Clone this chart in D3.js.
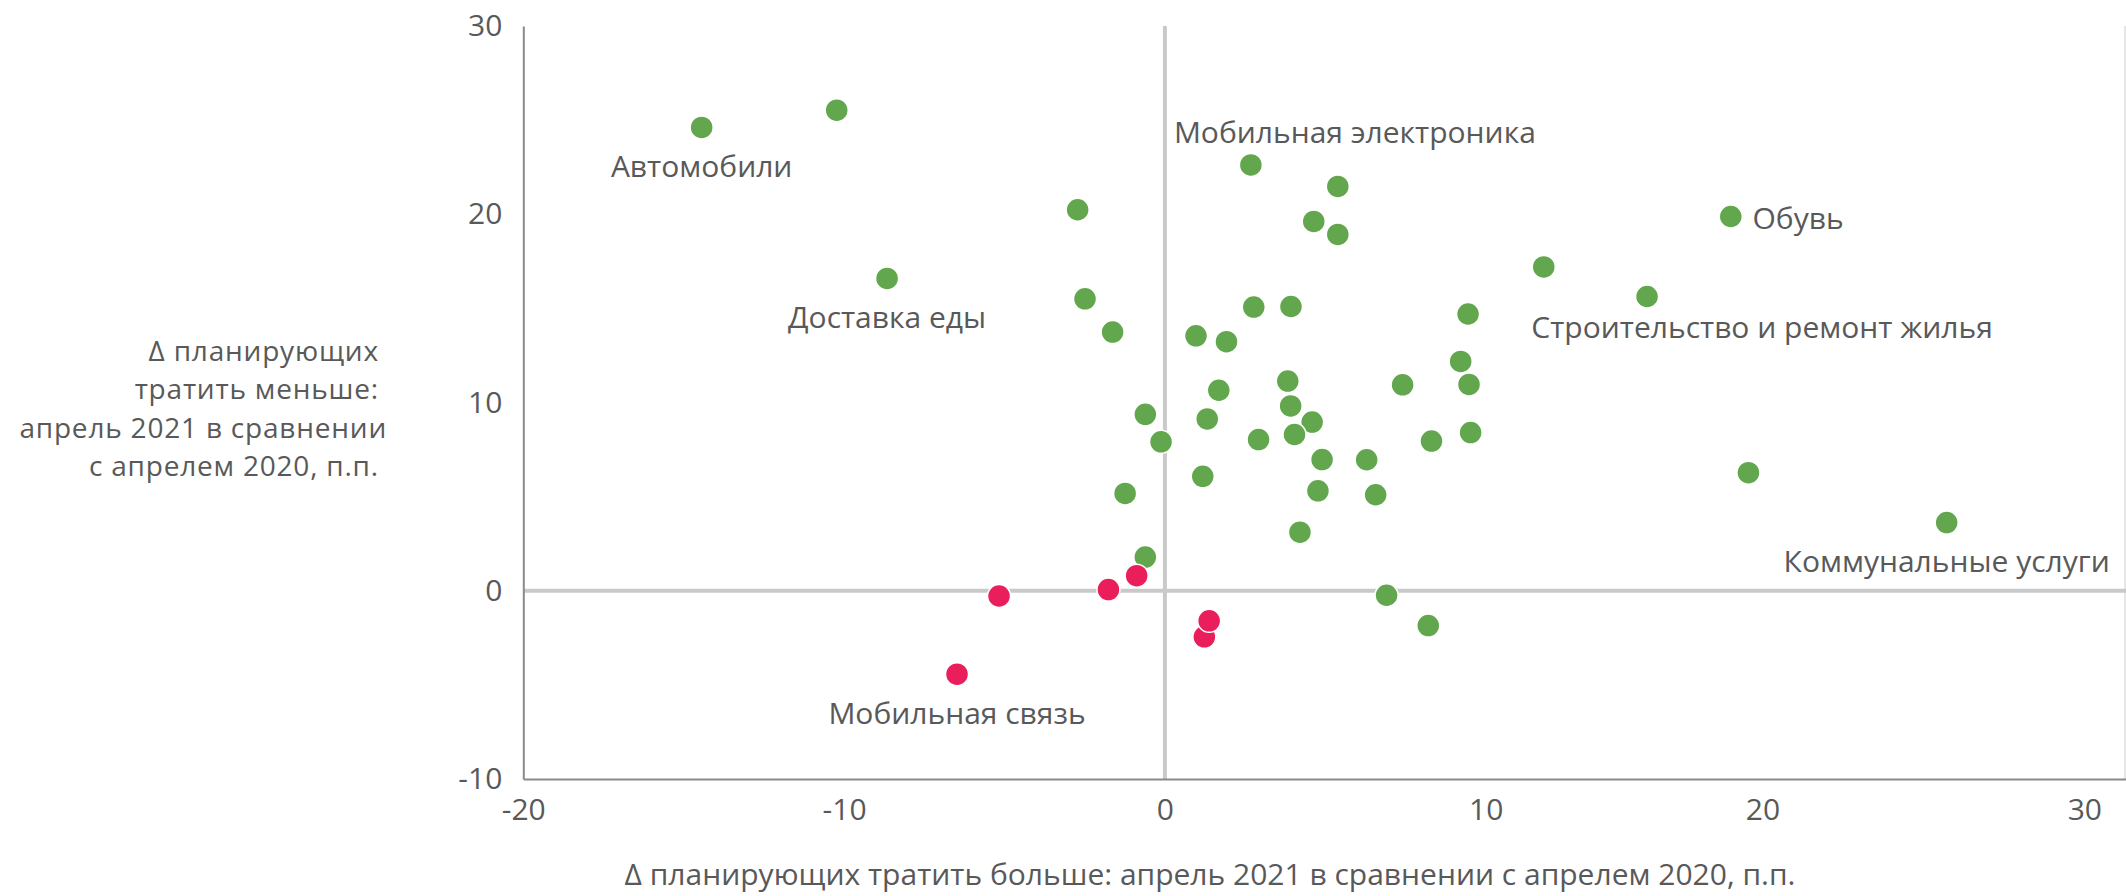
<!DOCTYPE html>
<html>
<head>
<meta charset="utf-8">
<script src="https://cdn.jsdelivr.net/npm/d3@7"></script>
<style>
  html, body { margin: 0; padding: 0; background: #ffffff; }
  svg text { font-family: "Open Sans", "Noto Sans", sans-serif; fill: #595959; }
</style>
</head>
<body>
<svg id="chart" width="2126" height="896"></svg>
<script>
// Categories whose share of "spend more" grew (green) — x: Δ spend more, y: Δ spend less, p.p.
const greenX = [-14.44, -10.23, -8.66, 2.68, 5.39, 4.64, 5.39, -2.72, -2.49, -1.63,
                 2.77, 3.93, 0.97, 1.92, 1.68, 3.83, 3.92, 4.59, 4.04, -0.61,
                -0.12, 1.32, 2.92, 4.90, 1.18, 4.77, -1.24, 4.21, -0.61, 11.81,
                15.03, 17.64, 9.45, 9.22, 9.48, 7.41, 9.53, 8.31, 6.29, 6.57,
                18.19, 6.91, 8.21, 24.37];
const greenY = [24.61, 25.53, 16.59, 22.62, 21.48, 19.62, 18.93, 20.24, 15.51, 13.74,
                15.07, 15.10, 13.54, 13.23, 10.65, 11.14, 9.82, 8.96, 8.30, 9.37,
                 7.91, 9.13, 8.03, 6.97, 6.08, 5.31, 5.17, 3.11, 1.79, 17.20,
                15.63, 19.88, 14.70, 12.18, 10.96, 10.94, 8.40, 7.95, 6.96, 5.10,
                 6.27, -0.24, -1.85, 3.62];

// Categories in the lower-left group (red)
const redX = [-0.88, -1.76, -5.17, 1.23, 1.38, -6.48];
const redY = [0.80, 0.06, -0.28, -2.45, -1.60, -4.43];

// Named categories: series and index of the point they describe
const labelNames  = ["Автомобили", "Доставка еды", "Мобильная электроника", "Обувь",
                     "Строительство и ремонт жилья", "Коммунальные услуги", "Мобильная связь"];
const labelSeries = ["green", "green", "green", "green", "green", "green", "red"];
const labelIndex  = [0, 2, 3, 31, 30, 43, 5];

// Axis ticks
const xTicks = [-20, -10, 0, 10, 20, 30];
const yTicks = [-10, 0, 10, 20, 30];

const xTitle = "Δ планирующих тратить больше: апрель 2021 в сравнении с апрелем 2020, п.п.";
const yTitleLines = ["Δ планирующих\u00A0", "тратить меньше:\u00A0", "апрель 2021 в сравнении", "с апрелем 2020, п.п.\u00A0"];

// ---- drawing ----
const GREEN = "#62a64e", RED = "#e91e5b", TEXT = "#595959";
const FONT = '"Open Sans", "Noto Sans", sans-serif';
const tickFmt = d => String(d);   // plain hyphen for negatives
const svg = d3.select("#chart");

const x = d3.scaleLinear().domain([-20, 30]).range([523.3, 2127.3]);
const y = d3.scaleLinear().domain([-10, 30]).range([779, 26]);

// right frame edge
svg.append("line")
  .attr("x1", 2125).attr("x2", 2125)
  .attr("y1", y(30)).attr("y2", y(-10))
  .attr("stroke", "#dedede").attr("stroke-width", 1.5);

// zero lines
svg.append("line")
  .attr("x1", x(0)).attr("x2", x(0))
  .attr("y1", y(30)).attr("y2", y(-10))
  .attr("stroke", "#c9c9c9").attr("stroke-width", 4);
svg.append("line")
  .attr("x1", x(-20)).attr("x2", x(30))
  .attr("y1", y(0)).attr("y2", y(0))
  .attr("stroke", "#c9c9c9").attr("stroke-width", 4);

// y axis
const gy = svg.append("g")
  .attr("transform", `translate(${x(-20)},0)`)
  .call(d3.axisLeft(y).tickValues(yTicks).tickFormat(tickFmt).tickSize(0).tickSizeOuter(0).tickPadding(21));
gy.select(".domain").attr("stroke", "#8a8a8a").attr("stroke-width", 2);
gy.selectAll("text").attr("font-size", 30).attr("fill", TEXT).style("font-family", FONT);

// x axis
const gx = svg.append("g")
  .attr("transform", `translate(0,${y(-10)})`)
  .call(d3.axisBottom(x).tickValues(xTicks).tickFormat(tickFmt).tickSize(0).tickSizeOuter(0).tickPadding(20));
gx.select(".domain").attr("stroke", "#8a8a8a").attr("stroke-width", 2);
gx.selectAll("text").attr("font-size", 30).attr("fill", TEXT).style("font-family", FONT);
// tick label shifts as laid out in the original layout (last label kept inside the frame)
const xTickShift = new Map([[20, -44], [30, -43]]);
gx.selectAll(".tick text").attr("dx", d => xTickShift.get(d) || 0);

// points
svg.append("g").selectAll("circle")
  .data(d3.range(greenX.length))
  .join("circle")
  .attr("cx", i => x(greenX[i])).attr("cy", i => y(greenY[i]))
  .attr("r", 11.5)
  .attr("fill", GREEN).attr("stroke", "#ffffff").attr("stroke-width", 1.5);

svg.append("g").selectAll("circle")
  .data(d3.range(redX.length))
  .join("circle")
  .attr("cx", i => x(redX[i])).attr("cy", i => y(redY[i]))
  .attr("r", 11.5)
  .attr("fill", RED).attr("stroke", "#ffffff").attr("stroke-width", 1.5);

// data labels
const placement = {
  "Автомобили":                   { anchor: "middle", dx: 0,    dy: 50 },
  "Доставка еды":                 { anchor: "middle", dx: 0,    dy: 50 },
  "Мобильная электроника":        { anchor: "middle", dx: 104,  dy: -22 },
  "Обувь":                        { anchor: "start",  dx: 21.7, dy: 12 },
  "Строительство и ремонт жилья": { anchor: "middle", dx: 115,  dy: 41.5 },
  "Коммунальные услуги":          { anchor: "middle", dx: 0,    dy: 49 },
  "Мобильная связь":              { anchor: "middle", dx: 0,    dy: 50 }
};
svg.append("g").selectAll("text")
  .data(d3.range(labelNames.length))
  .join("text")
  .attr("x", i => {
    const sx = labelSeries[i] === "green" ? greenX : redX;
    return x(sx[labelIndex[i]]) + placement[labelNames[i]].dx;
  })
  .attr("y", i => {
    const sy = labelSeries[i] === "green" ? greenY : redY;
    return y(sy[labelIndex[i]]) + placement[labelNames[i]].dy;
  })
  .attr("text-anchor", i => placement[labelNames[i]].anchor)
  .attr("font-size", 30)
  .text(i => labelNames[i]);

// axis titles
svg.append("text")
  .attr("x", 1210).attr("y", 885)
  .attr("text-anchor", "middle")
  .attr("font-size", 30)
  .text(xTitle);

const yt = svg.append("text")
  .attr("text-anchor", "end")
  .attr("font-size", 28)
  .attr("letter-spacing", 0.8);
yt.selectAll("tspan")
  .data(yTitleLines)
  .join("tspan")
  .attr("x", 387)
  .attr("y", (d, i) => 361 + i * 38.3)
  .text(d => d);
</script>
</body>
</html>
